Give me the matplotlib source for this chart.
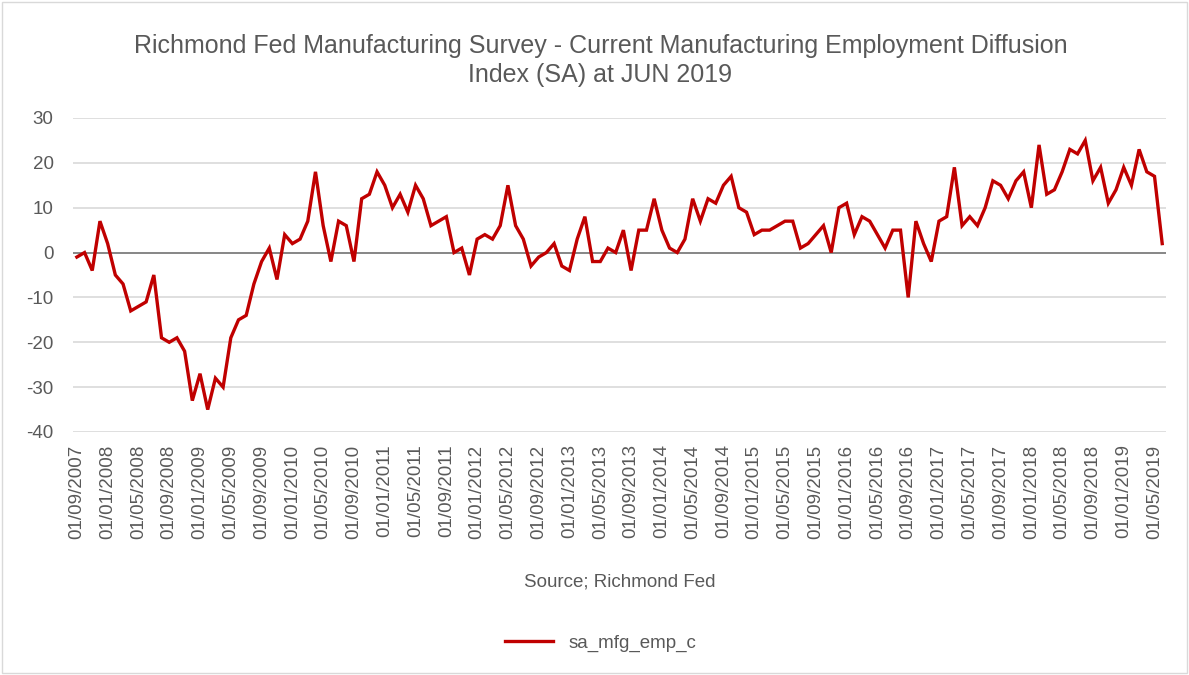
import numpy as np
import pandas as pd
import matplotlib
matplotlib.use("Agg")
import matplotlib.pyplot as plt
from matplotlib.patches import Rectangle

plt.rcParams['font.family'] = ['Liberation Sans', 'DejaVu Sans']
plt.rcParams['axes.unicode_minus'] = False

# monthly readings, Sep 2007 .. Jun 2019
dates = pd.date_range("2007-09-01", "2019-06-01", freq="MS")
values = [
    -1, 0, -4, 7,                                        # 2007 Sep-Dec
    2, -5, -7, -13, -12, -11, -5, -19, -20, -19, -22, -33,  # 2008
    -27, -35, -28, -30, -19, -15, -14, -7, -2, 1, -6, 4,    # 2009
    2, 3, 7, 18, 6, -2, 7, 6, -2, 12, 13, 18,               # 2010
    15, 10, 13, 9, 15, 12, 6, 7, 8, 0, 1, -5,               # 2011
    3, 4, 3, 6, 15, 6, 3, -3, -1, 0, 2, -3,                 # 2012
    -4, 3, 8, -2, -2, 1, 0, 5, -4, 5, 5, 12,                # 2013
    5, 1, 0, 3, 12, 7, 12, 11, 15, 17, 10, 9,               # 2014
    4, 5, 5, 6, 7, 7, 1, 2, 4, 6, 0, 10,                    # 2015
    11, 4, 8, 7, 4, 1, 5, 5, -10, 7, 2, -2,                 # 2016
    7, 8, 19, 6, 8, 6, 10, 16, 15, 12, 16, 18,              # 2017
    10, 24, 13, 14, 18, 23, 22, 25, 16, 19, 11, 14,         # 2018
    19, 15, 23, 18, 17, 2,                                  # 2019 Jan-Jun
]
series_name = "sa_mfg_emp_c"
title = ("Richmond Fed Manufacturing Survey - Current Manufacturing Employment Diffusion\n"
         "Index (SA) at JUN 2019")

x = np.arange(len(dates))
tick_idx = x[::4]
tick_labels = [dates[i].strftime("%d/%m/%Y") for i in tick_idx]

fig = plt.figure(figsize=(11.89, 6.75), dpi=100)
ax = fig.add_axes([0.0614, 0.36, 0.9193, 0.4652])

ax.plot(x, values, color="#C00000", lw=2.4, label=series_name, solid_joinstyle="miter")
ax.axhline(0, color="#808080", lw=1.3, zorder=1)

ax.set_ylim(-40, 30)
ax.set_yticks(np.arange(-40, 31, 10))
ax.set_xlim(-0.5, len(dates) - 0.5)
ax.set_xticks(tick_idx)
ax.set_xticklabels(tick_labels, rotation=90)
ax.grid(axis="y", color="#d9d9d9", lw=1.2)
ax.set_axisbelow(True)
for s in ax.spines.values():
    s.set_visible(False)
ax.tick_params(length=0, labelsize=13.5, colors="#595959")
ax.tick_params(axis="y", pad=14)
ax.tick_params(axis="x", pad=9)

ax.set_xlabel("Source; Richmond Fed", fontsize=13.5, color="#595959", labelpad=25)
fig.suptitle(title, x=0.505, fontsize=18, color="#595959", y=0.95, linespacing=1.3)

fig.legend(loc="center", bbox_to_anchor=(0.505, 0.047), frameon=False,
           fontsize=13.5, labelcolor="#595959", handlelength=2.6)

fig.patches.append(Rectangle((0.002, 0.003), 0.996, 0.994, transform=fig.transFigure,
                             fill=False, edgecolor="#d9d9d9", lw=1))

fig.savefig("out.png", dpi=100)
